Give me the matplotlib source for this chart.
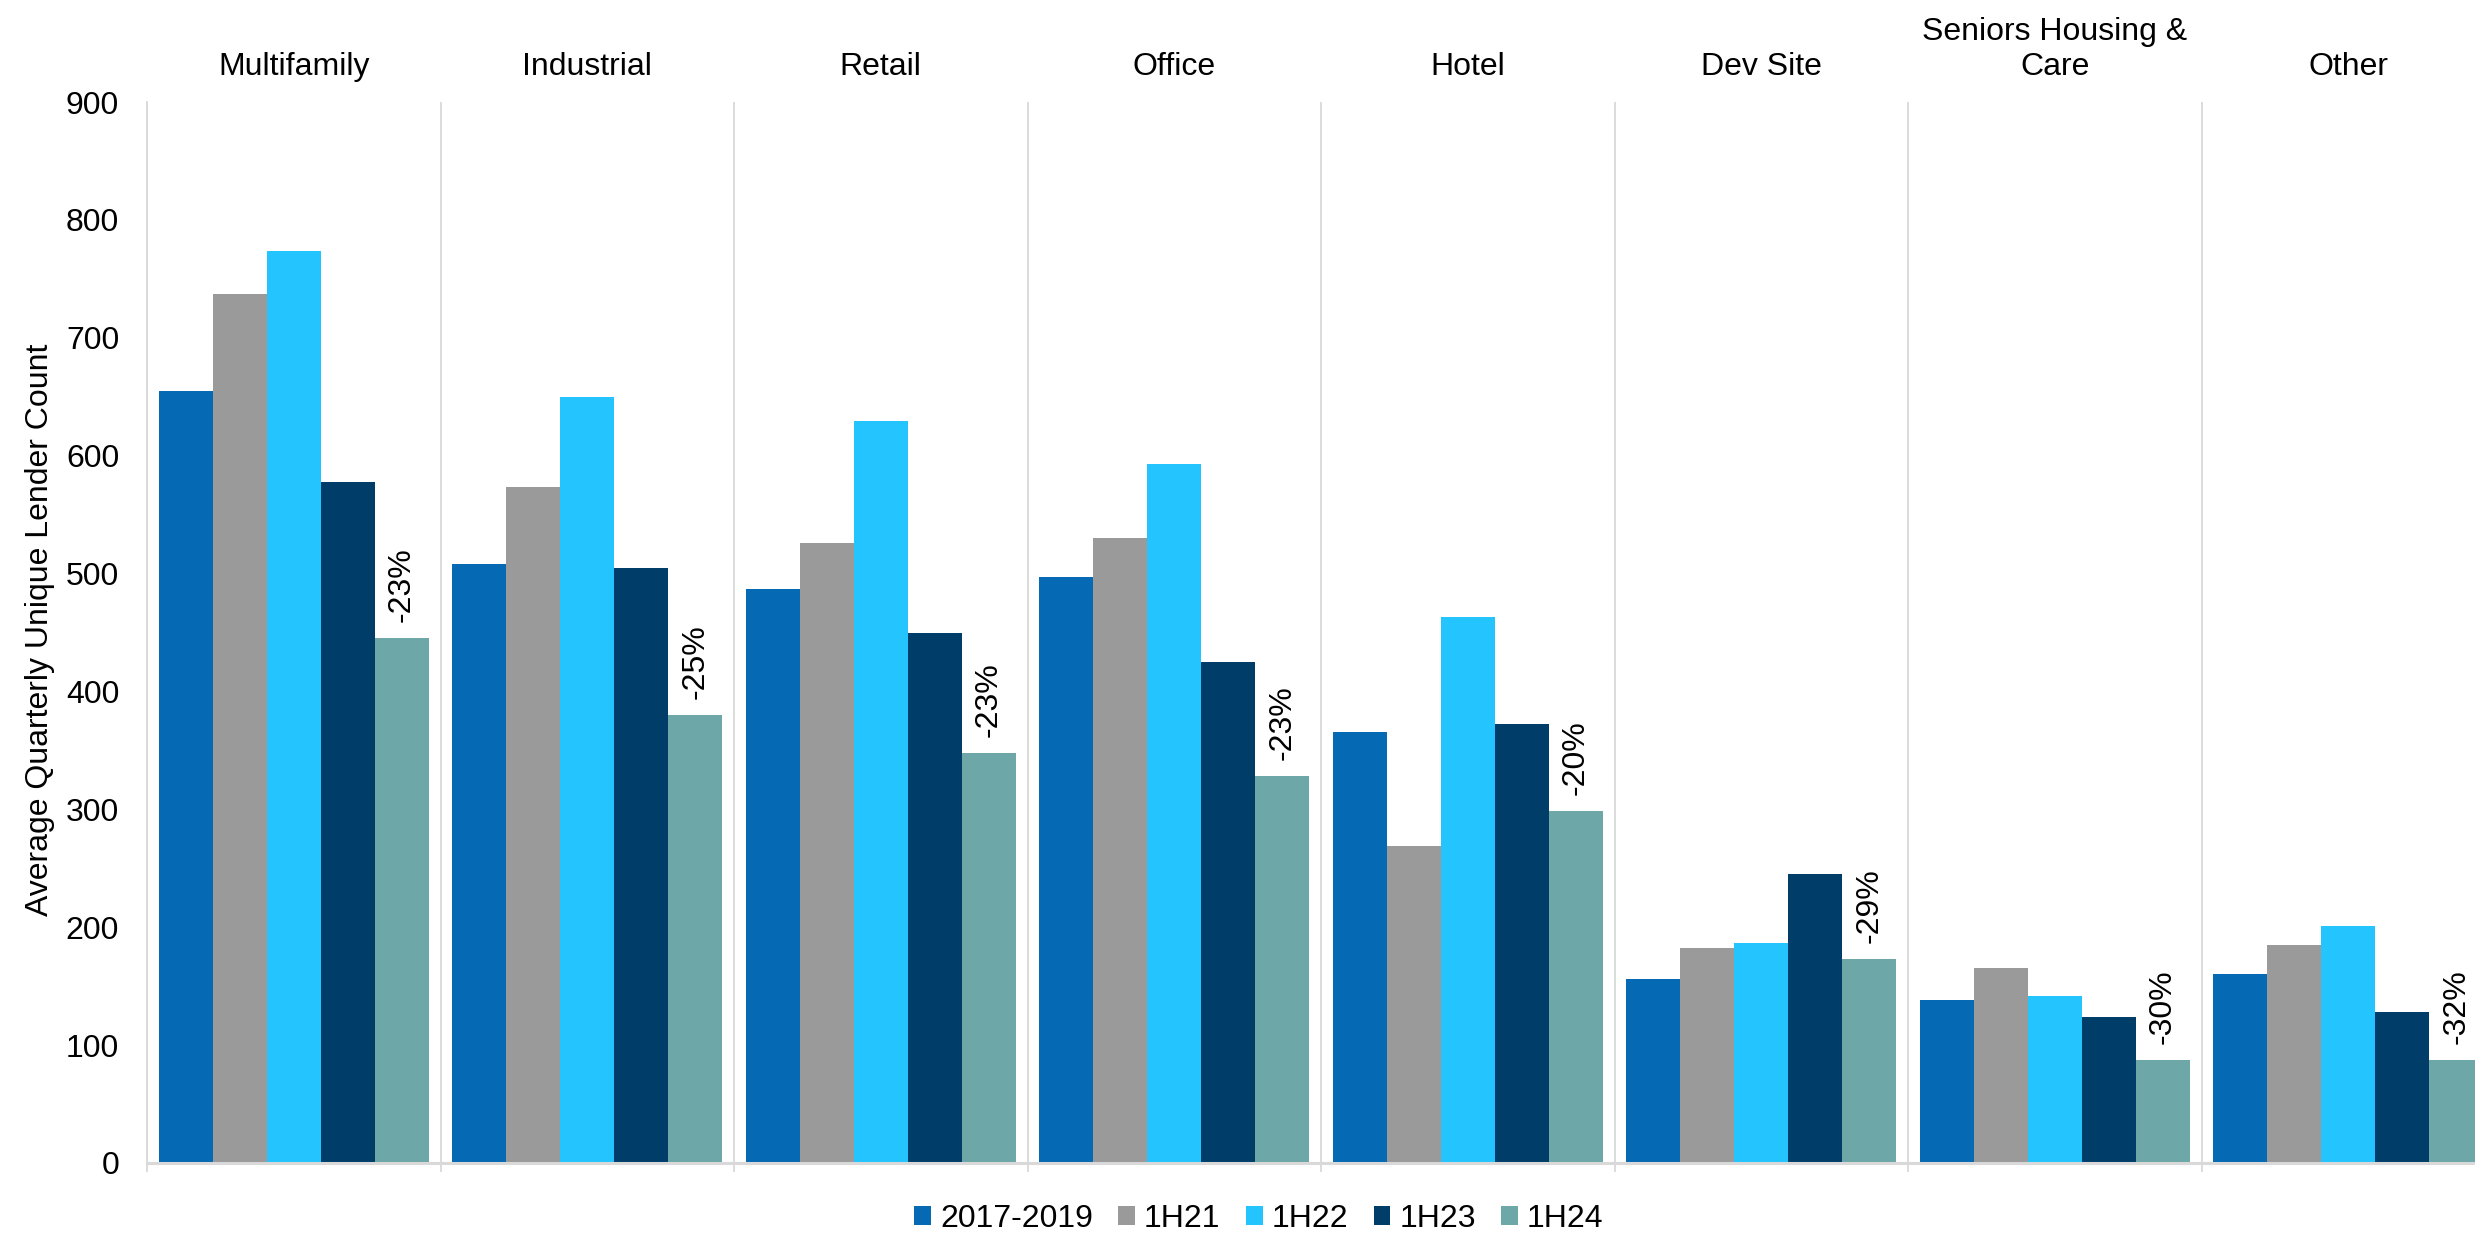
import matplotlib
matplotlib.use("Agg")
import matplotlib.pyplot as plt
from matplotlib.patches import Patch
import numpy as np

plt.rcParams['font.family'] = ['Liberation Sans', 'DejaVu Sans']

# Property types and periods
categories = ["Multifamily", "Industrial", "Retail", "Office", "Hotel",
              "Dev Site", "Seniors Housing &\nCare", "Other"]
periods = ["2017-2019", "1H21", "1H22", "1H23", "1H24"]

# Average quarterly unique lender count per period
avg_2017_2019 = [655, 508, 487, 497, 366, 156, 138, 160]
h1_21 = [737, 573, 526, 530, 269, 182, 165, 185]
h1_22 = [774, 650, 629, 593, 463, 187, 142, 201]
h1_23 = [578, 505, 450, 425, 372, 245, 124, 128]
h1_24 = [445, 380, 348, 328, 299, 173, 87, 87]

y_ticks = [0, 100, 200, 300, 400, 500, 600, 700, 800, 900]

colors = ["#0569B3", "#9A9A9A", "#24C4FF", "#003D69", "#6EA7A8"]
grid_grey = "#D9D9D9"
FS = 23

series = [avg_2017_2019, h1_21, h1_22, h1_23, h1_24]

W, H = 2475, 1234
fig = plt.figure(figsize=(W / 100, H / 100), dpi=100)
ax = fig.add_axes([147 / W, 71 / H, 2348 / W, (1163 - 102) / H])

x = np.arange(len(categories))
bw = 0.184
for i, vals in enumerate(series):
    ax.bar(x + (i - 2) * bw, vals, bw, color=colors[i], linewidth=0, zorder=2)

ax.set_xlim(-0.5, len(categories) - 0.5)
ax.set_ylim(0, 900)
ax.set_yticks(y_ticks)
ax.tick_params(axis='y', length=0, pad=20, labelsize=FS)

# Group separators as ticks + vertical grid lines
ax.set_xticks(np.arange(-0.5, len(categories) + 0.5, 1))
ax.set_xticklabels([])
ax.tick_params(axis='x', direction='out', length=6.5, width=1.3, color=grid_grey)
ax.grid(axis='x', color=grid_grey, linewidth=1.3, zorder=0)
ax.grid(axis='y', visible=False)
ax.set_axisbelow(True)

for s in ['top', 'right']:
    ax.spines[s].set_visible(False)
ax.spines['left'].set_color(grid_grey)
ax.spines['left'].set_linewidth(1.3)
ax.spines['bottom'].set_color(grid_grey)
ax.spines['bottom'].set_linewidth(2.2)
ax.spines['bottom'].set_zorder(3)

# Category labels along the top
for i, c in enumerate(categories):
    ax.annotate(c, xy=(i, 1), xycoords=('data', 'axes fraction'),
                xytext=(0, 14.5), textcoords='offset points',
                ha='center', va='bottom', fontsize=FS)

# Change from 1H23 to 1H24 above the latest bar
for i, (a, b) in enumerate(zip(h1_23, h1_24)):
    pct = round((b - a) / a * 100)
    ax.annotate(f"{pct}%", xy=(x[i] + 2 * bw, b), xytext=(0, 11.5),
                textcoords='offset points', rotation=90,
                ha='center', va='bottom', fontsize=FS)

fig.text(40 / W, 1 - 630 / H, "Average Quarterly Unique Lender Count",
         rotation=90, ha='center', va='center', fontsize=FS)

handles = [Patch(facecolor=c, edgecolor='none') for c in colors]
fig.legend(handles, periods, loc='center', bbox_to_anchor=(1259 / W, 15 / H),
           ncol=5, frameon=False, fontsize=FS, handlelength=0.52,
           handleheight=0.52, handletextpad=0.28, columnspacing=0.8,
           borderaxespad=0, borderpad=0)

fig.savefig("out.png", dpi=100, facecolor='white')
